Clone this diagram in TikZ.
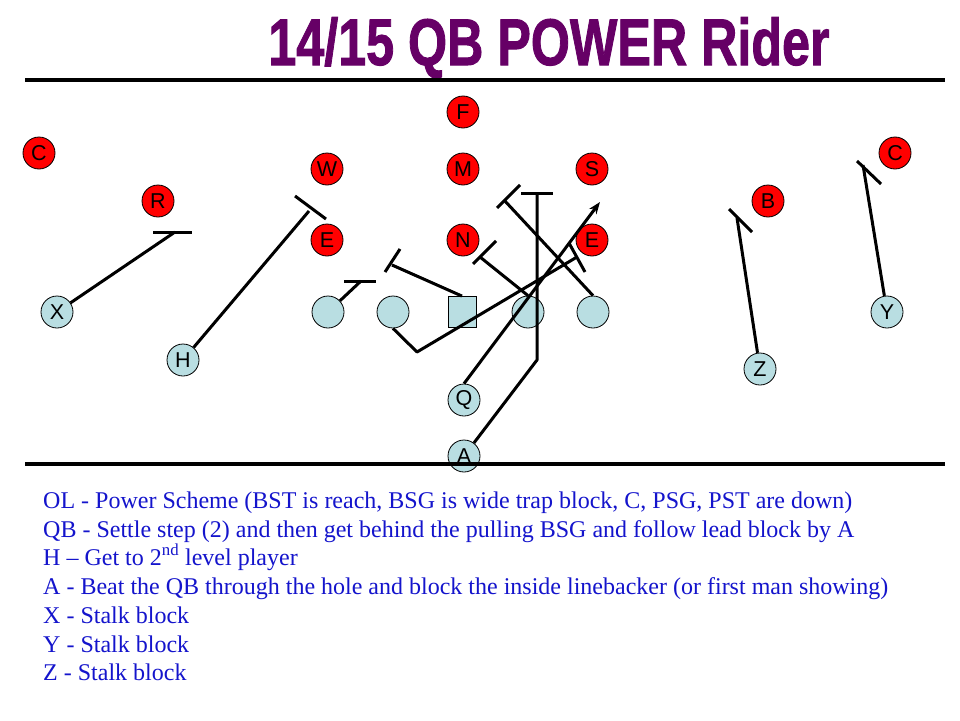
\documentclass[tikz,border=0pt]{standalone}
\usepackage{fontspec}
\setmainfont{Liberation Serif}
\newfontfamily\arialf{Liberation Sans}
\newfontfamily\ttlfont[BoldFeatures={FakeBold=1.6}]{Liberation Sans}
\usetikzlibrary{arrows.meta}
\definecolor{titlepurple}{RGB}{102,0,102}
\definecolor{txtblue}{RGB}{20,20,204}
\definecolor{offblue}{RGB}{185,222,226}
\definecolor{defred}{RGB}{255,0,0}
\begin{document}
\begin{tikzpicture}[x=1pt,y=-1pt,
  plyr/.style={circle,minimum size=32pt,inner sep=0pt,draw=black,line width=0.8pt,
    font=\arialf\fontsize{21.5}{21.5}\selectfont},
  def/.style={plyr,fill=defred},
  off/.style={plyr,fill=offblue},
  offsq/.style={rectangle,minimum width=28pt,minimum height=31pt,inner sep=0pt,
    draw=black,line width=0.8pt,fill=offblue},
  route/.style={draw=black,line width=3pt,line join=round},
  blockbar/.style={draw=black,line width=3pt},
  rule/.style={draw=black,line width=4pt},
  note/.style={anchor=base west,inner sep=0pt,text=txtblue,font=\fontsize{24}{28.8}\selectfont},
  ttl/.style={anchor=base,inner sep=0pt,xscale=0.785,yscale=1.03,text=titlepurple,font=\ttlfont\bfseries\fontsize{64}{64}\selectfont}
]
\useasboundingbox (0,0) rectangle (960,720);
\fill[white] (0,0) rectangle (960,720);

% title
\node[ttl] (title) at (549,65) {14/15 QB POWER Rider};

% defense
\node[def] (F)  at (463,112) {F};
\node[def] (CL) at (39,153) {C};
\node[def] (CR) at (895,153) {C};
\node[def] (W)  at (327,169) {W};
\node[def] (M)  at (463,169) {M};
\node[def] (S)  at (592,169) {S};
\node[def] (R)  at (158,201) {R};
\node[def] (B)  at (768,201) {B};
\node[def] (EL) at (327,240) {E};
\node[def] (N)  at (463,240) {N};
\node[def] (ER) at (592,240) {E};

% offense
\node[off] (X)  at (57,312) {X};
\node[off] (o1) at (328,312) {};
\node[off] (o2) at (393,312) {};
\node[offsq] (ctr) at (462,312) {};
\node[off] (o4) at (528,312) {};
\node[off] (o5) at (593,312) {};
\node[off] (Y)  at (887,312) {Y};
\node[off] (H)  at (183,360) {H};
\node[off] (Z)  at (760,369) {Z};
\node[off] (Q)  at (464,400) {Q};
\node[off] (A)  at (464,456) {A};

% route end points
\coordinate (xe) at (175,232);
\coordinate (he) at (309,211);
\coordinate (o1e) at (361,281);
\coordinate (o2k) at (417,352);
\coordinate (o2e) at (577,257);
\coordinate (ce) at (392,265);
\coordinate (o4e) at (480,257);
\coordinate (o5e) at (504,200);
\coordinate (ak) at (537,360);
\coordinate (ae) at (537,193);
\coordinate (qe) at (600,202);
\coordinate (ze) at (737,218);
\coordinate (ye) at (863,165);

% routes
\draw[route] (X) -- (xe);
\draw[blockbar] (153,232) -- (192,232);
\draw[route] (H) -- (he);
\draw[blockbar] (295,196) -- (326,219);
\draw[route] (o1) -- (o1e);
\draw[blockbar] (344,281) -- (376,281);
\draw[route] (o2.south) -- (o2k) -- (o2e);
\draw[blockbar] (569,243) -- (585,272);
\draw[route] (ctr.north) -- (ce);
\draw[blockbar] (385,272) -- (400,249);
\draw[route] (o4.north) -- (o4e);
\draw[blockbar] (473,264) -- (496,241);
\draw[route] (o5.north) -- (o5e);
\draw[blockbar] (497,208) -- (520,185);
\draw[route] (A) -- (ak) -- (ae);
\draw[blockbar] (521,193) -- (553,193);
\draw[route,-{Stealth[length=12pt,width=9pt]}] (Q.north) -- (qe);
\draw[route] (Z) -- (ze);
\draw[blockbar] (729,209) -- (752,232);
\draw[route] (Y) -- (ye);
\draw[blockbar] (857,161) -- (881,184);

% rules
\coordinate (r1a) at (25,80);
\coordinate (r1b) at (945,80);
\coordinate (r2a) at (25,464);
\coordinate (r2b) at (945,464);
\draw[rule] (r1a) -- (r1b);
\draw[rule] (r2a) -- (r2b);

% notes
\node[note] (t1) at (43,508) {OL - Power Scheme (BST is reach, BSG is wide trap block, C, PSG, PST are down)};
\node[note] (t2) at (43,537) {QB - Settle step (2) and then get behind the pulling BSG and follow lead block by A};
\node[note] (t3) at (43,565) {H -- Get to 2\textsuperscript{nd} level player};
\node[note] (t4) at (43,594) {A - Beat the QB through the hole and block the inside linebacker (or first man showing)};
\node[note] (t5) at (43,623) {X - Stalk block};
\node[note] (t6) at (43,652) {Y - Stalk block};
\node[note] (t7) at (43,680) {Z - Stalk block};
\end{tikzpicture}
\end{document}
